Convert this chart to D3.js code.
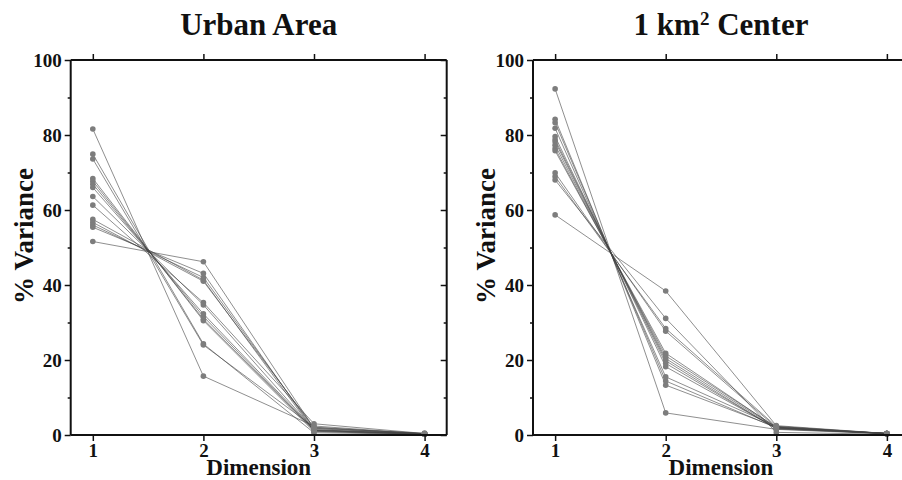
<!DOCTYPE html>
<html>
<head>
<meta charset="utf-8">
<script src="https://cdn.jsdelivr.net/npm/d3@7"></script>
<style>
  html, body { margin: 0; padding: 0; background: #fff; }
  svg { display: block; }
  text { font-family: "Liberation Serif", "DejaVu Serif", serif; font-weight: bold; fill: #111; }
</style>
</head>
<body>
<svg id="chart" width="902" height="480"></svg>
<script>
// Principal dimensions and their tick labels
const dimensions = [1, 2, 3, 4];
const yTicksMajor = [0, 20, 40, 60, 80, 100];
const yTicksMinor = [10, 30, 50, 70, 90];

// % variance explained by each dimension, one row per city (Urban Area)
const urbanArea = [
  [81.6, 15.7, 2.4, 0.3],
  [74.9, 24.3, 0.6, 0.2],
  [73.6, 24.0, 2.1, 0.3],
  [68.4, 30.5, 0.9, 0.2],
  [67.7, 30.9, 1.2, 0.2],
  [66.9, 31.6, 1.2, 0.3],
  [66.0, 32.3, 1.4, 0.3],
  [63.6, 34.7, 1.4, 0.3],
  [61.3, 35.3, 3.0, 0.4],
  [57.5, 41.3, 1.0, 0.2],
  [56.7, 41.0, 2.0, 0.3],
  [56.0, 42.0, 1.7, 0.3],
  [55.4, 43.1, 1.2, 0.3],
  [51.6, 46.2, 1.8, 0.5]
];

// % variance explained by each dimension, one row per city (1 km² center)
const cityCenter = [
  [92.3, 5.9, 1.5, 0.3],
  [84.2, 13.3, 2.1, 0.4],
  [83.3, 14.4, 1.9, 0.4],
  [81.8, 15.5, 2.3, 0.4],
  [79.6, 18.2, 1.8, 0.4],
  [78.8, 19.1, 1.7, 0.4],
  [78.2, 19.8, 1.6, 0.4],
  [77.3, 20.4, 1.9, 0.4],
  [76.4, 21.1, 2.1, 0.4],
  [75.8, 21.8, 2.0, 0.4],
  [69.9, 27.7, 2.0, 0.4],
  [68.9, 28.4, 2.3, 0.4],
  [68.0, 31.1, 0.7, 0.2],
  [58.7, 38.4, 2.5, 0.4]
];

const svg = d3.select("#chart");

const plotTop = 60, plotBottom = 435, panelWidth = 376;
const y = d3.scaleLinear().domain([0, 100]).range([plotBottom, plotTop]);

function drawPanel(left, rows, titleParts) {
  const right = left + panelWidth;
  const x = d3.scaleLinear().domain([0.8, 4.2]).range([left, right]);
  const g = svg.append("g");

  // Title
  const title = g.append("text")
    .attr("x", left + panelWidth / 2)
    .attr("y", 35)
    .attr("text-anchor", "middle")
    .style("font-size", "31px");
  titleParts.forEach(p => {
    const t = title.append("tspan").text(p.text);
    if (p.sup) t.attr("baseline-shift", "super").style("font-size", "19px");
  });

  // Series lines and points
  const line = d3.line().x((d, i) => x(dimensions[i])).y(d => y(d));
  g.append("g").selectAll("path").data(rows).join("path")
    .attr("d", line)
    .attr("fill", "none")
    .attr("stroke", "#444")
    .attr("stroke-opacity", 0.6)
    .attr("stroke-width", 1);
  rows.forEach(r => {
    g.append("g").selectAll("circle").data(r).join("circle")
      .attr("cx", (d, i) => x(dimensions[i]))
      .attr("cy", d => y(d))
      .attr("r", 2.8)
      .attr("fill", "#7d7d7d");
  });

  // Axes: ticks outward on left/bottom/top, inward on right
  const axes = g.append("g");
  const ba = axes.append("g").attr("transform", `translate(0,${plotBottom})`)
    .call(d3.axisBottom(x).tickValues(dimensions).tickFormat(d3.format("d")).tickSize(6).tickPadding(3));
  ba.selectAll("text").style("font-size", "19px");
  ba.select(".domain").attr("d", `M${left},0H${right}`);

  const ta = axes.append("g").attr("transform", `translate(0,${plotTop})`)
    .call(d3.axisTop(x).tickValues(dimensions).tickFormat("").tickSize(6));
  ta.select(".domain").attr("d", `M${left},0H${right}`);

  const la = axes.append("g").attr("transform", `translate(${left},0)`)
    .call(d3.axisLeft(y).tickValues(yTicksMajor).tickFormat(d3.format("d")).tickSize(6).tickPadding(3));
  la.selectAll("text").style("font-size", "19px");
  la.select(".domain").attr("d", `M0,${plotBottom}V${plotTop}`);
  axes.append("g").attr("transform", `translate(${left},0)`)
    .call(d3.axisLeft(y).tickValues(yTicksMinor).tickFormat("").tickSize(3))
    .select(".domain").remove();

  const ra = axes.append("g").attr("transform", `translate(${right},0)`)
    .call(d3.axisLeft(y).tickValues(yTicksMajor).tickFormat("").tickSize(6));
  ra.select(".domain").attr("d", `M0,${plotBottom}V${plotTop}`);
  axes.append("g").attr("transform", `translate(${right},0)`)
    .call(d3.axisLeft(y).tickValues(yTicksMinor).tickFormat("").tickSize(3))
    .select(".domain").remove();

  axes.selectAll(".domain").attr("stroke", "#111").attr("stroke-width", 2);
  axes.selectAll(".tick line").attr("stroke", "#111").attr("stroke-width", 1.5);

  // Axis titles
  g.append("text")
    .attr("x", left + panelWidth / 2)
    .attr("y", 475)
    .attr("text-anchor", "middle")
    .style("font-size", "23px")
    .text("Dimension");
  g.append("text")
    .attr("transform", `translate(${left - 38},236) rotate(-90)`)
    .attr("text-anchor", "middle")
    .style("font-size", "27px")
    .text("% Variance");
}

drawPanel(70.7, urbanArea, [{ text: "Urban Area" }]);
drawPanel(533, cityCenter, [{ text: "1 km" }, { text: "2", sup: true }, { text: " Center" }]);
</script>
</body>
</html>
